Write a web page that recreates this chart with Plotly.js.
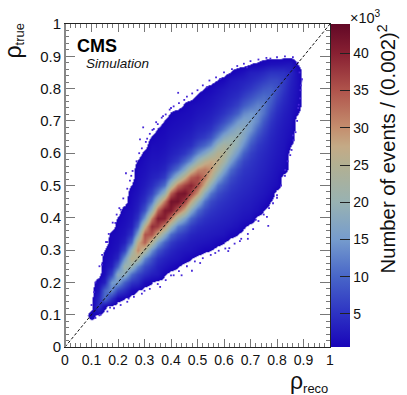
<!DOCTYPE html>
<html><head><meta charset="utf-8">
<script src="https://cdn.plot.ly/plotly-3.0.1.min.js"></script>
<style>html,body{margin:0;padding:0;background:#fff}#c{width:407px;height:395px}</style>
</head><body><div id="c"></div>
<script>
// Bin centres of the coarse density read-off
const binsX=[.075,.1,.125,.15,.175,.2,.225,.25,.275,.3,.325,.35,.375,.4,.425,.45,.475,.5,.525,.55,.575,.6,.625,.65,.675,.7,.725,.75,.775,.8,.825,.85,.875,.9,.925];
const binsY=binsX.slice();
// first filled y-bin of every x column, and the column's counts (thousands)
const colStart=[0,1,2,2,3,3,3,4,4,5,5,6,6,7,7,8,8,9,9,9,10,10,11,11,12,13,14,14,15,17,19,22,26,0,0];
const colVals=[
[],
[1.2],
[5,4,2.2,1.2],
[.8,11,10,3.2,1.6,1.2,.9,.55],
[5,13.3,14.7,6.7,3,1.8,1.3,1,.85],
[1,6.9,15.6,18.2,9.5,4,2.2,1.6,1.3,1,.6],
[.55,4.4,9.2,18.5,21.5,14.7,6.8,3.4,2.2,1.7,1.3,1.1],
[1.3,5.2,10.4,20,26,20,10.4,5.2,3,2.2,1.7,1.4,1.1,.55],
[.55,4.3,7,13,23.6,30.7,27,17,9,5,3.3,2.5,1.9,1.5,1.3,1.1,.6],
[1.3,4.7,7.6,13,23.8,33.8,35,26,15,8.3,5,3.6,2.7,2.1,1.7,1.4,.85],
[.6,3,5.3,8,14,24.6,35,38.6,31,19.5,11,6.6,4.4,3.3,2.6,2.1,1.7,1.3,.6],
[2.5,3.2,4.8,8.5,15.6,27,37,40.6,33.6,21.7,12.3,7,4,2.8,2.2,1.7,1.3,1,.6],
[.63,2.2,3.4,5.5,9.5,18,30,40,41,32,20,11,6,3.8,2.8,2.2,1.7,1.3,1,.6],
[1.3,2.6,3.8,6,10.5,20,32,41,42,34,22,12.5,7,4.2,3.1,2.4,1.9,1.5,1.1,.6],
[.63,2,2.8,4.2,7,12,22,34,42,41,32,20,11,6,4,3,2.3,1.8,1.4,1],
[1.2,2.2,3.4,5.4,9,16,27,37,42,37,27,17,10,5.5,3.8,2.9,2.2,1.7,1.3,.7],
[.63,2,2.7,3.8,6,10,17.6,28,36.8,39.6,34,24,14,8.2,4.6,3.4,2.6,2,1.5,1.2],
[1.4,2.3,3.2,4.4,6.6,10.5,19,29,35.5,36.3,30,21,13,7.6,4.8,3.6,2.7,2.1,1.6,.75],
[.7,2,2.9,3.8,5,7,11,18,27,32,31.7,25.7,17,10,6,4.2,3.2,2.5,1.9,1.3,.55],
[.55,1.7,2.6,3.4,4.3,5.4,7.4,11.5,18.5,26,29.7,28,21,13,8,5.2,3.8,3,2.3,1.7,1],
[1,2.3,3,3.8,4.6,5.7,7.6,11,17,23.5,26.7,25.4,20,13,8.2,5.5,4,3.1,2.4,1.7,.55],
[.6,2,2.7,3.4,4.1,5,6.2,8.4,12,17,22.5,25,23,17.5,11.5,7.5,5.2,3.9,3,2.3,1],
[1,2.3,3,3.6,4.3,5,6,7.6,10.5,15.5,19.8,22,19.8,15.5,10.5,7,5,3.8,3,2.3,.55],
[.55,1.7,2.5,3.1,3.7,4.3,5,5.8,7.2,10,14.5,18.4,20,18.4,14.5,9.5,6.5,4.6,3.5,2.8,1.2],
[.8,2,2.6,3.2,3.8,4.3,4.8,5.5,6.8,9.4,13.4,16.6,18,16.6,13.2,9,6.2,4.4,3.3,1.8],
[1.6,2.3,2.8,3.3,3.8,4.3,4.8,5.4,6.4,8.4,11.2,14.6,16,14.6,11,7.8,5.5,4,3,.55],
[1.6,2.2,2.7,3.1,3.6,4,4.4,4.9,5.8,7.4,9.8,12.8,14,12.8,9.6,7,5,3.3,.7],
[.55,1.6,2.2,2.6,3,3.4,3.7,4.1,4.7,5.6,6.9,8.6,11,12,10.6,8.4,6,4,1.2],
[.55,1.4,1.9,2.3,2.6,2.9,3.2,3.5,3.9,4.5,5.4,6.7,8.4,10,9.1,7.2,5,1.8],
[1.3,1.6,1.9,2.2,2.5,2.7,3,3.3,3.8,4.5,5.5,6.9,8,7.2,5,1.9],
[1.3,1.6,1.8,2,2.2,2.4,2.7,3.1,3.7,4.5,5.4,6,5,2.1],
[.6,1.3,1.6,1.9,2.1,2.4,2.7,3,3.4,3.8,2.4],
[.7,1.3,1.5,1.7,1.8,1.6,.6],
[],
[]
];
// isolated low-count bins outside the solid body
const strayX=[.427,.295,.344,.283,.23,.19,.359,.479,.767,.69,.762,.616,.567,.51,.894,.888,.85,.831,.775,.687,.535,.586,.31,.33,.37,.40,.45,.25,.21,.16,.14,.44,.62,.66,.72,.80,.86,.88,.40,.30,.24,.17,.13,
 .1,.11,.115,.13,.14,.155,.165,.18,.195,.205,.22,.235,.245,.255,.27,.28,.29,.305,.32,.335,.35,.365,.38,.395,.41,.43,.46,.48,.5,.52,.545,.57,.6,.63,.65,.675,.7,.73,.76,.8,.83,.86,
 .878,.885,.89,.887,.882,.876,.87,.862,.855,.84,.83,.815,.8,.785,.77,.75,.73,.71,.69,.665,.64,.605,.58,.55,.52,.49,.46,.43,.41,.38,.35,.32,.29,.26,.235,.21,.185,.16,.135,.115];
const strayY=[.787,.68,.696,.643,.538,.384,.186,.236,.375,.335,.403,.297,.291,.26,.829,.795,.594,.548,.893,.866,.804,.83,.645,.672,.715,.74,.765,.53,.425,.325,.255,.222,.306,.328,.394,.462,.655,.74,.222,.174,.15,.122,.098,
 .13,.17,.2,.25,.285,.325,.35,.385,.41,.43,.46,.49,.515,.545,.575,.6,.615,.635,.66,.675,.69,.71,.72,.735,.745,.755,.775,.785,.795,.81,.825,.835,.85,.86,.87,.877,.885,.89,.895,.897,.9,.897,
 .88,.85,.81,.77,.75,.7,.665,.64,.61,.575,.53,.5,.47,.445,.43,.41,.39,.365,.35,.335,.32,.305,.298,.285,.275,.265,.25,.235,.222,.207,.195,.18,.165,.155,.14,.13,.12,.11,.1,.09];
const colorbarTicks=[5,10,15,20,25,30,35,40];
const zLow=.54, zHigh=43.95;
const palette=[[.54,'rgb(25,5,185)'],[5,'rgb(45,50,195)'],[10,'rgb(72,102,200)'],[15,'rgb(118,156,205)'],[20,'rgb(152,178,178)'],[25,'rgb(178,176,146)'],[27.5,'rgb(196,170,134)'],[30,'rgb(196,142,110)'],[35,'rgb(176,84,76)'],[40,'rgb(136,32,50)'],[43.95,'rgb(98,8,38)']];

const columns=colVals.map((v,i)=>{const c=binsY.map(()=>0);v.forEach((d,j)=>{c[colStart[i]+j]=d});return c});
const scaleBody=[[0,'rgba(255,255,255,0)'],[.5/zHigh,'rgba(255,255,255,0)'],[.52/zHigh,'rgb(25,5,185)']].concat(palette.slice(1).map(p=>[p[0]/zHigh,p[1]]));
const scaleBar=palette.map(p=>[(p[0]-zLow)/(zHigh-zLow),p[1]]);
const font='"Liberation Sans",Arial,sans-serif';
const axis={range:[0,1],tick0:0,dtick:.1,ticks:'inside',tickcolor:'#777',tickwidth:1,showgrid:false,zeroline:false,showline:true,linecolor:'#222',linewidth:1,mirror:'allticks',
  minor:{dtick:.02,ticks:'inside',ticklen:4,tickcolor:'#777',tickwidth:1,showgrid:false}};
const data=[
 {type:'heatmap',x:binsX,y:binsY,z:columns,transpose:true,zsmooth:'best',zmin:0,zmax:zHigh,colorscale:scaleBody,showscale:false,hoverinfo:'skip'},
 {type:'heatmap',x:[-3,-2],y:[-3,-2],z:[[zLow,zHigh],[zHigh,zLow]],zmin:zLow,zmax:zHigh,colorscale:scaleBar,hoverinfo:'skip',
  colorbar:{x:1.0055,xanchor:'left',xpad:0,ypad:0,y:0,yanchor:'bottom',len:1,lenmode:'fraction',thickness:19,thicknessmode:'pixels',outlinewidth:0,
   tickmode:'array',tickvals:colorbarTicks,ticktext:colorbarTicks.map(String),ticks:'inside',ticklen:10,tickcolor:'#222',tickwidth:1,tickfont:{family:font,size:14,color:'#111'}}},
 {type:'scatter',mode:'markers',x:strayX,y:strayY,marker:{size:1.8,symbol:'square',color:'rgb(70,40,215)'},hoverinfo:'skip'},
 {type:'scatter',mode:'lines',x:[0,1],y:[0,1],line:{color:'#111',width:1,dash:'3px,2px'},hoverinfo:'skip'}
];
const layout={width:407,height:395,margin:{l:65,r:77.3,t:23.5,b:47.7},paper_bgcolor:'#fff',plot_bgcolor:'#fff',showlegend:false,
 xaxis:Object.assign({ticklen:8,tickfont:{family:font,size:14,color:'#111'}},axis),
 yaxis:Object.assign({ticklen:10,tickfont:{family:font,size:15,color:'#111'}},axis),
 shapes:[{type:'line',xref:'paper',yref:'paper',x0:0,x1:0,y0:0,y1:1,line:{color:'#888',width:2}}],
 annotations:[
  {xref:'paper',yref:'paper',x:1,y:0,xanchor:'right',yanchor:'top',yshift:-19,text:'<span style="font-size:23px">ρ</span><sub>reco</sub>',showarrow:false,font:{family:font,size:18.5,color:'#111'}},
  {xref:'paper',yref:'paper',x:0,y:1,xanchor:'right',yanchor:'top',xshift:-36,yshift:2,textangle:-90,text:'<span style="font-size:23px">ρ</span><sub>true</sub>',showarrow:false,font:{family:font,size:18.5,color:'#111'}},
  {xref:'paper',yref:'paper',x:0,y:1,xanchor:'left',yanchor:'top',xshift:10,yshift:-10,text:'<b>CMS</b>',showarrow:false,font:{family:font,size:18,color:'#000'}},
  {xref:'paper',yref:'paper',x:0,y:1,xanchor:'left',yanchor:'top',xshift:19,yshift:-30,text:'<i>Simulation</i>',showarrow:false,font:{family:font,size:13.5,color:'#111'}},
  {xref:'paper',yref:'paper',x:1.0,y:1,xanchor:'left',yanchor:'bottom',xshift:18,yshift:-4,text:'×10<sup>3</sup>',showarrow:false,font:{family:font,size:14.5,color:'#111'}},
  {xref:'paper',yref:'paper',x:1.0,y:1,xanchor:'left',yanchor:'top',xshift:41,yshift:1,textangle:-90,text:'Number of events / (0.002)<sup>2</sup>',showarrow:false,font:{family:font,size:20.3,color:'#111'}}
 ]};
Plotly.newPlot('c',data,layout,{displayModeBar:false,staticPlot:true});
</script></body></html>
